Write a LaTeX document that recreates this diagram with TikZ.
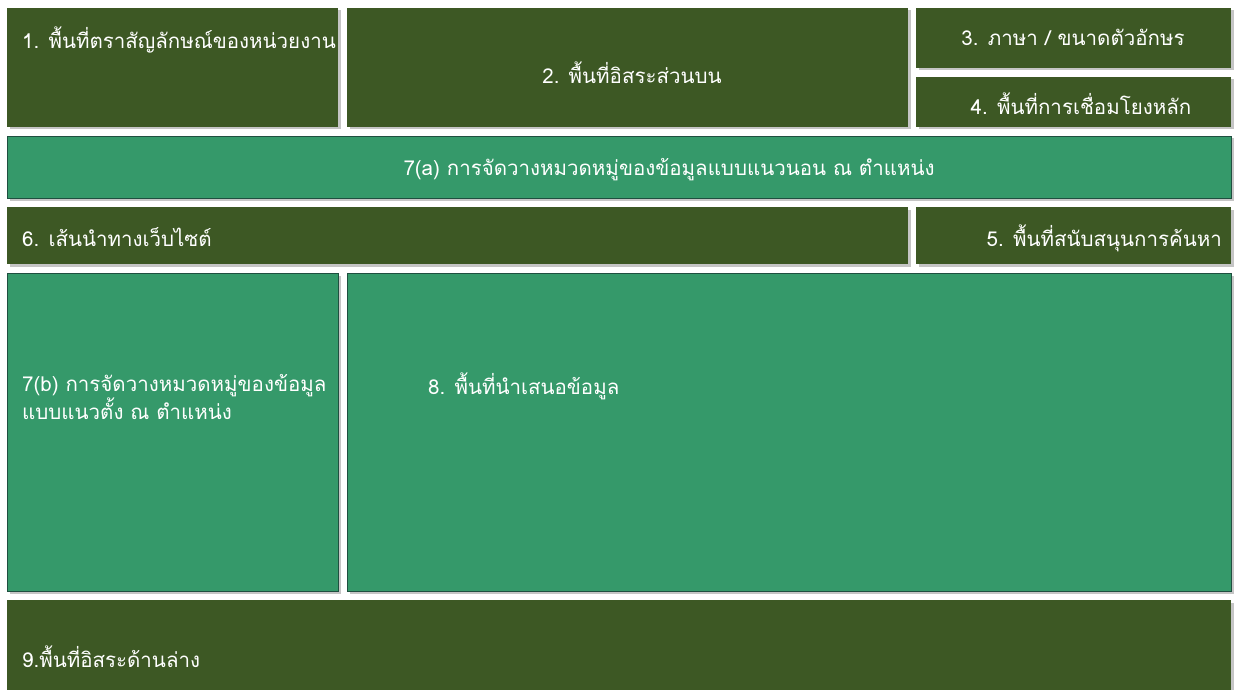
\documentclass[tikz,border=0pt]{standalone}
\usepackage{fontspec}
\newfontfamily\thaifont[Script=Thai]{Loma}
\usetikzlibrary{fit,shadows}
\definecolor{darkgr}{HTML}{3D5824}
\definecolor{lightgr}{HTML}{35996A}
\definecolor{edgegr}{HTML}{1F4F40}
\tikzset{
  area/.style={inner sep=0pt, draw=none, drop shadow={shadow xshift=2.5pt, shadow yshift=-2.5pt, opacity=0.45, fill=gray}},
  darkbox/.style={area, fill=darkgr},
  lightbox/.style={area, fill=lightgr, draw=edgegr, line width=0.8pt},
  txt/.style={text=white, font=\thaifont\fontsize{20.5}{26}\selectfont, inner sep=0pt},
}
\begin{document}
\begin{tikzpicture}[x=1pt,y=-1pt]
\useasboundingbox[fill=white] (0,0) rectangle (1237,690);
\node[darkbox, fit={(7,8) (338,127)}] (b1) {};
\node[darkbox, fit={(347,8) (908,127)}] (b2) {};
\node[darkbox, fit={(916,8) (1231,68)}] (b3) {};
\node[darkbox, fit={(916,77) (1231,127)}] (b4) {};
\node[lightbox, fit={(7,136) (1231,198)}] (b7a) {};
\node[darkbox, fit={(7,207) (908,264)}] (b6) {};
\node[darkbox, fit={(916,207) (1231,264)}] (b5) {};
\node[lightbox, fit={(7,273) (338,591)}] (b7b) {};
\node[lightbox, fit={(347,273) (1231,591)}] (b8) {};
\node[darkbox, fit={(7,600) (1231,692)}] (b9) {};

\node[txt, anchor=west] (t1) at (22,40) {1. พื้นที่ตราสัญลักษณ์ของหน่วยงาน};
\node[txt] (t2) at (632,73) {2. พื้นที่อิสระส่วนบน};
\node[txt] (t3) at (1073,37) {3. ภาษา / ขนาดตัวอักษร};
\node[txt] (t4) at (1081,104) {4. พื้นที่การเชื่อมโยงหลัก};
\node[txt] (t7a) at (669,170) {7(a) การจัดวางหมวดหมู่ของข้อมูลแบบแนวนอน ณ ตำแหน่ง};
\node[txt, anchor=west] (t6) at (22,237) {6. เส้นนำทางเว็บไซต์};
\node[txt, anchor=east] (t5) at (1222,238) {5. พื้นที่สนับสนุนการค้นหา};
\node[txt, anchor=west, align=left] (t7b) at (22,397) {7(b) การจัดวางหมวดหมู่ของข้อมูล\\แบบแนวตั้ง ณ ตำแหน่ง};
\node[txt, anchor=west] (t8) at (428,386) {8. พื้นที่นำเสนอข้อมูล};
\node[txt, anchor=west] (t9) at (22,657) {9.พื้นที่อิสระด้านล่าง};
\end{tikzpicture}
\end{document}
